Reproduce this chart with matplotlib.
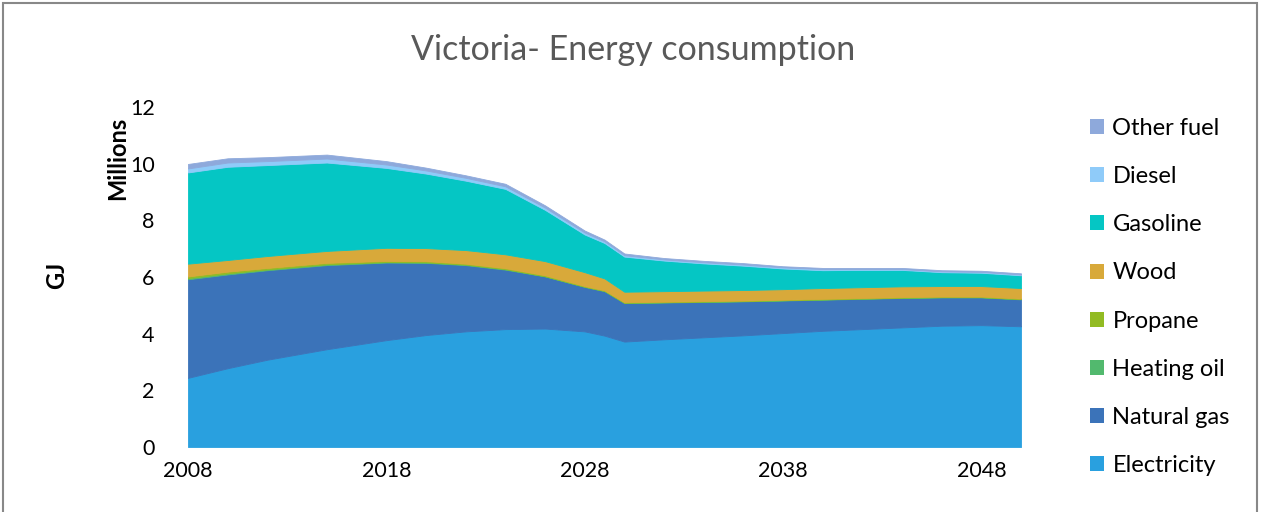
import matplotlib
matplotlib.use("Agg")
import matplotlib.pyplot as plt
from matplotlib.patches import Rectangle, Patch
import numpy as np

plt.rcParams['font.family'] = ['Lato', 'DejaVu Sans']

years = [2008, 2010, 2012, 2015, 2018, 2020, 2022, 2024, 2026, 2028, 2029, 2030,
         2032, 2034, 2036, 2038, 2040, 2042, 2044, 2046, 2048, 2050]

electricity = [2.44, 2.78, 3.08, 3.45, 3.77, 3.95, 4.08, 4.16, 4.18, 4.08, 3.93, 3.72,
               3.80, 3.87, 3.94, 4.02, 4.10, 4.16, 4.22, 4.28, 4.30, 4.26]
natural_gas = [3.48, 3.31, 3.16, 2.97, 2.74, 2.55, 2.34, 2.10, 1.84, 1.57, 1.57, 1.36,
               1.30, 1.25, 1.20, 1.15, 1.10, 1.07, 1.04, 1.00, 0.98, 0.95]
heating_oil = [0.04, 0.04, 0.03, 0.03, 0.02, 0.02, 0.02, 0.02, 0.01, 0.01, 0.01, 0.01,
               0.01, 0.01, 0.01, 0.01, 0.01, 0.01, 0.01, 0.01, 0.01, 0.01]
propane = [0.06, 0.06, 0.05, 0.05, 0.04, 0.04, 0.03, 0.03, 0.03, 0.02, 0.02, 0.02,
           0.02, 0.02, 0.02, 0.02, 0.02, 0.02, 0.02, 0.02, 0.02, 0.02]
wood = [0.45, 0.41, 0.42, 0.42, 0.46, 0.46, 0.48, 0.49, 0.50, 0.49, 0.42, 0.37,
        0.37, 0.37, 0.37, 0.37, 0.38, 0.38, 0.38, 0.37, 0.37, 0.37]
gasoline = [3.22, 3.29, 3.21, 3.12, 2.82, 2.63, 2.45, 2.31, 1.81, 1.33, 1.25, 1.24,
            1.08, 0.96, 0.86, 0.73, 0.63, 0.61, 0.58, 0.49, 0.47, 0.45]
diesel = [0.14, 0.15, 0.14, 0.14, 0.12, 0.11, 0.10, 0.09, 0.08, 0.07, 0.06, 0.05,
          0.04, 0.04, 0.04, 0.04, 0.04, 0.03, 0.03, 0.03, 0.03, 0.03]
other_fuel = [0.16, 0.15, 0.14, 0.14, 0.12, 0.10, 0.09, 0.09, 0.08, 0.07, 0.06, 0.06,
              0.05, 0.05, 0.05, 0.04, 0.04, 0.04, 0.04, 0.04, 0.04, 0.04]

labels = ["Electricity", "Natural gas", "Heating oil", "Propane", "Wood",
          "Gasoline", "Diesel", "Other fuel"]
series = [electricity, natural_gas, heating_oil, propane, wood, gasoline, diesel, other_fuel]
colors = ["#29A0DF", "#3B73B9", "#52B96E", "#92BB23", "#D8A93A",
          "#05C6C4", "#8FCBF9", "#8EA9DB"]

x_ticks = [2008, 2018, 2028, 2038, 2048]
y_ticks = [0, 2, 4, 6, 8, 10, 12]

fig = plt.figure(figsize=(12.62, 5.12), dpi=100)
ax = fig.add_axes([188/1262, 65/512, (1021-188)/1262, (447-107)/512])

ax.stackplot(years, *series, colors=colors, labels=labels, linewidth=0.6,
             edgecolor='face')

ax.set_xlim(2008, 2050)
ax.set_ylim(0, 12)
ax.set_xticks(x_ticks)
ax.set_yticks(y_ticks)
ax.tick_params(axis='both', length=0, labelsize=15.5, colors='black')
ax.tick_params(axis='x', pad=10)
ax.tick_params(axis='y', pad=24)
for s in ax.spines.values():
    s.set_visible(False)

fig.text(118/1262, 1 - 158/512, "Millions", rotation=90, fontsize=17,
         fontweight='bold', ha='center', va='center')
fig.text(57/1262, 1 - 275/512, "GJ", rotation=90, fontsize=17,
         fontweight='bold', ha='center', va='center')
fig.text(633/1262, 1 - 50/512, "Victoria- Energy consumption", fontsize=24.5,
         color='#595959', ha='center', va='center')

handles = [Patch(facecolor=c, edgecolor='none') for c in colors][::-1]
leg = fig.legend(handles, labels[::-1], loc='upper left',
                 bbox_to_anchor=(1090/1262, 1 - 118/512), frameon=False,
                 fontsize=17, labelspacing=1.15, handlelength=0.6,
                 handleheight=0.6, handletextpad=0.35, borderpad=0,
                 borderaxespad=0)

fig.patches.append(Rectangle((3/1262, -0.05), (1257-3)/1262, 1.05 - 3/512,
                             transform=fig.transFigure, fill=False,
                             edgecolor='#888888', linewidth=1.5))

fig.savefig("out.png", dpi=100)
